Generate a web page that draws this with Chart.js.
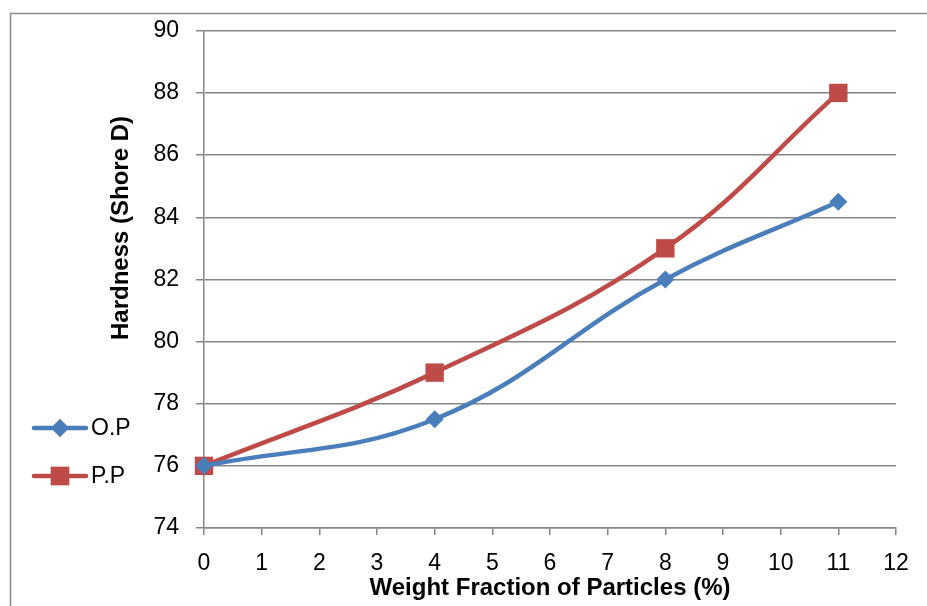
<!DOCTYPE html>
<html>
<head>
<meta charset="utf-8">
<script src="https://cdn.jsdelivr.net/npm/chart.js@4/dist/chart.umd.min.js"></script>
<style>
  html, body { margin: 0; padding: 0; background: #fff; }
  #wrap { width: 927px; height: 606px; }
</style>
</head>
<body>
<div id="wrap"><canvas id="grafico"></canvas></div>
<script>
// dados
var fracoes = [0, 4, 8, 11];
var durezaOP = [76, 77.5, 82, 84.5];
var durezaPP = [76, 79, 83, 88];
var nomesSeries = ['O.P', 'P.P'];
var coresSeries = ['#4a7ebb', '#be4b48'];
var ticksY = [74, 76, 78, 80, 82, 84, 86, 88, 90];

function pontos(xs, ys) {
    return xs.map(function (x, i) { return { x: x, y: ys[i] }; });
}

// moldura, título do eixo y e legenda à esquerda
var extras = {
    id: 'extras',
    beforeDraw: function (chart) {
        var c = chart.ctx;
        c.save();
        c.fillStyle = '#fff';
        c.fillRect(0, 0, chart.width, chart.height);
        c.strokeStyle = '#8c8c8c';
        c.lineWidth = 1.5;
        c.strokeRect(10.5, 13.5, chart.width + 10, chart.height + 10);
        c.restore();
    },
    afterDraw: function (chart) {
        var c = chart.ctx;
        c.save();
        // título y
        c.translate(121, 228);
        c.rotate(-Math.PI / 2);
        c.fillStyle = '#000';
        c.font = 'bold 24px "Liberation Sans"';
        c.textAlign = 'center';
        c.textBaseline = 'middle';
        c.fillText('Hardness (Shore D)', 0, 0);
        c.restore();

        // legenda
        var ys = [428, 476];
        var estilos = ['rectRot', 'rect'];
        var raios = [9, 13];
        c.save();
        for (var i = 0; i < 2; i++) {
            c.strokeStyle = coresSeries[i];
            c.lineWidth = 4.5;
            c.lineCap = 'round';
            c.beginPath();
            c.moveTo(34, ys[i]);
            c.lineTo(86, ys[i]);
            c.stroke();
            c.fillStyle = coresSeries[i];
            Chart.helpers.drawPoint(c, { pointStyle: estilos[i], radius: raios[i], borderWidth: 0 }, 60, ys[i]);
            c.fill();
            c.fillStyle = '#000';
            c.font = '23px "Liberation Sans"';
            c.textAlign = 'left';
            c.textBaseline = 'middle';
            c.fillText(nomesSeries[i], 91, ys[i] + 1);
        }
        c.restore();
    }
};

var ctx = document.getElementById('grafico').getContext('2d');

var grafico = new Chart(ctx, {
    type: 'line',
    data: {
        datasets: [{
            label: nomesSeries[0],
            data: pontos(fracoes, durezaOP),
            borderColor: coresSeries[0],
            backgroundColor: coresSeries[0],
            borderWidth: 4.5,
            pointStyle: 'rectRot',
            pointRadius: 9,
            pointBorderWidth: 0,
            tension: 0.4,
            cubicInterpolationMode: 'default',
            clip: false
        }, {
            label: nomesSeries[1],
            data: pontos(fracoes, durezaPP),
            borderColor: coresSeries[1],
            backgroundColor: coresSeries[1],
            borderWidth: 4.5,
            pointStyle: 'rect',
            pointRadius: 13,
            pointBorderWidth: 0,
            tension: 0.4,
            cubicInterpolationMode: 'default',
            clip: false
        }]
    },
    options: {
        responsive: true,
        maintainAspectRatio: false,
        animation: false,
        layout: { padding: { left: 100, top: 30, right: 31, bottom: 3 } },
        plugins: {
            legend: { display: false },
            tooltip: { enabled: false }
        },
        scales: {
            x: {
                type: 'linear',
                min: 0,
                max: 12,
                ticks: {
                    stepSize: 1,
                    color: '#000',
                    font: { family: 'Liberation Sans', size: 23 },
                    padding: 15
                },
                grid: {
                    drawOnChartArea: false,
                    drawTicks: true,
                    tickLength: 7,
                    color: '#868686',
                    lineWidth: 1.5
                },
                border: { color: '#868686', width: 1.5 },
                title: {
                    display: true,
                    text: 'Weight Fraction of Particles (%)',
                    color: '#000',
                    font: { family: 'Liberation Sans', size: 24, weight: 'bold' },
                    padding: { top: 0, bottom: 0 }
                },
                afterFit: function (s) { s.height = 75; }
            },
            y: {
                min: 74,
                max: 90,
                afterBuildTicks: function (s) {
                    s.ticks = ticksY.map(function (v) { return { value: v }; });
                },
                ticks: {
                    color: '#000',
                    font: { family: 'Liberation Sans', size: 23 },
                    padding: 17
                },
                grid: {
                    drawTicks: true,
                    tickLength: 8,
                    color: '#868686',
                    lineWidth: 1.5
                },
                border: { color: '#868686', width: 1.5 },
                afterFit: function (s) { s.width = 104; }
            }
        }
    },
    plugins: [extras]
});
</script>
</body>
</html>
